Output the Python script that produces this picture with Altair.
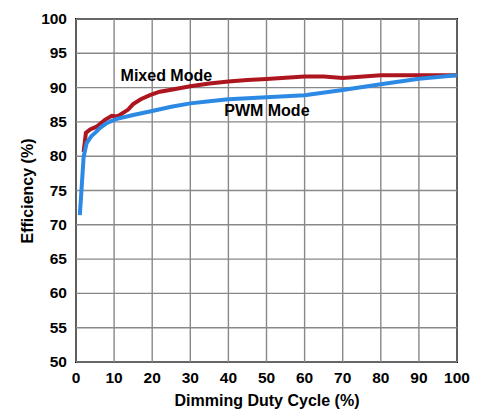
import altair as alt
import pandas as pd

# PWM Mode (blue)
pwm_x = [1, 1.5, 2, 2.8, 4, 5, 6.5, 8, 10.5, 15, 20, 25, 30, 35, 40, 50, 60, 70, 80, 90, 100]
pwm_y = [71.4, 75.6, 79.9, 81.9, 82.9, 83.4, 84.2, 84.8, 85.4, 86.0, 86.6, 87.2, 87.7, 88.0, 88.3,
         88.6, 88.9, 89.65, 90.5, 91.3, 91.8]

# Mixed Mode (red)
mixed_x = [2, 2.6, 3.7, 5.4, 7.6, 9.4, 10.7, 11.5, 13.7, 15, 17, 19.4, 22, 25, 30, 35, 40, 45, 50,
           60, 65, 70, 80, 90, 100]
mixed_y = [80.6, 83.4, 83.9, 84.3, 85.3, 85.9, 85.8, 86.0, 86.8, 87.6, 88.3, 88.9, 89.4, 89.7, 90.2,
           90.6, 90.9, 91.1, 91.25, 91.6, 91.6, 91.4, 91.8, 91.8, 91.8]

label_text = ["Mixed Mode", "PWM Mode"]
label_x = [11.7, 38.9]
label_y = [91.7, 86.6]

x_ticks = [0, 10, 20, 30, 40, 50, 60, 70, 80, 90, 100]
y_ticks = [50, 55, 60, 65, 70, 75, 80, 85, 90, 95, 100]

pwm_df = pd.DataFrame({"x": pwm_x, "y": pwm_y})
mixed_df = pd.DataFrame({"x": mixed_x, "y": mixed_y})
lab_df = pd.DataFrame({"t": label_text, "x": label_x, "y": label_y})
xt_df = pd.DataFrame({"v": x_ticks, "s": [str(v) for v in x_ticks]})
yt_df = pd.DataFrame({"v": y_ticks, "s": [str(v) for v in y_ticks]})

FONT = "Liberation Sans"
W, H = 381, 343

xs = alt.Scale(domain=[0, 100], nice=False)
ys = alt.Scale(domain=[50, 100], nice=False)

xax = alt.Axis(title="Dimming Duty Cycle (%)", grid=False, ticks=False, labels=False, domain=False,
               titleFont=FONT, titleFontSize=16, titleFontWeight="bold", titleColor="black",
               titleY=38, titleBaseline="middle")
yax = alt.Axis(title="Efficiency (%)", grid=False, ticks=False, labels=False, domain=False,
               titleFont=FONT, titleFontSize=16, titleFontWeight="bold", titleColor="black",
               titleX=-49, titleY=H / 2, titleAngle=270, titleAlign="center",
               titleBaseline="middle")

vgrid = alt.Chart(xt_df).mark_rule(color="#888888", strokeWidth=1.4).encode(
    x=alt.X("v:Q", scale=xs, axis=xax),
    y=alt.value(0), y2=alt.value(H),
)
hgrid = alt.Chart(yt_df).mark_rule(color="#888888", strokeWidth=1.4).encode(
    y=alt.Y("v:Q", scale=ys, axis=yax),
    x=alt.value(0), x2=alt.value(W),
)
xlabels = alt.Chart(xt_df).mark_text(align="center", baseline="middle", font=FONT, fontSize=15.5,
                                     fontWeight="bold", color="black").encode(
    x=alt.X("v:Q", scale=xs, axis=xax),
    y=alt.value(H + 16),
    text="s:N",
)
ylabels = alt.Chart(yt_df).mark_text(align="right", baseline="middle", font=FONT, fontSize=15.5,
                                     fontWeight="bold", color="black").encode(
    y=alt.Y("v:Q", scale=ys, axis=yax),
    x=alt.value(-9),
    text="s:N",
)

mixed = alt.Chart(mixed_df).mark_line(color="#ad161e", strokeWidth=4, clip=True).encode(
    x=alt.X("x:Q", scale=xs, axis=xax),
    y=alt.Y("y:Q", scale=ys, axis=yax),
)
pwm = alt.Chart(pwm_df).mark_line(color="#2d8ae4", strokeWidth=4, clip=True).encode(
    x=alt.X("x:Q", scale=xs, axis=xax),
    y=alt.Y("y:Q", scale=ys, axis=yax),
)
labels = alt.Chart(lab_df).mark_text(align="left", baseline="middle", font=FONT, fontSize=16,
                                     fontWeight="bold", color="black").encode(
    x=alt.X("x:Q", scale=xs, axis=xax),
    y=alt.Y("y:Q", scale=ys, axis=yax),
    text="t:N",
)

chart = alt.layer(vgrid, hgrid, xlabels, ylabels, mixed, pwm, labels).properties(
    width=W, height=H,
    autosize=alt.AutoSizeParams(type="none"),
    padding={"left": 68, "top": 11, "right": 17, "bottom": 49},
    background="white",
).configure_view(stroke="black", strokeWidth=2)

chart.save("out.html", embed_options={"renderer": "svg", "actions": False})
